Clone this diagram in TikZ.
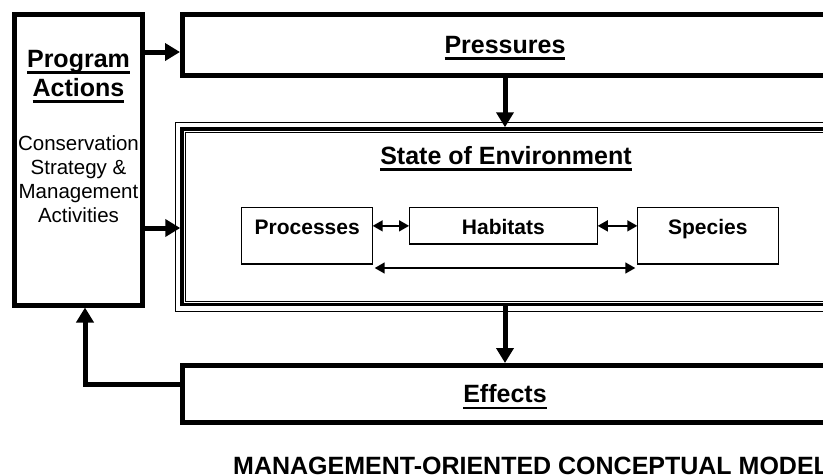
\documentclass[tikz,border=0pt]{standalone}
\usepackage{fontspec}
\setmainfont{Liberation Sans}
\usetikzlibrary{arrows.meta}
\usetikzlibrary{calc}

\newcommand{\ulined}[1]{\setbox0=\hbox{#1}\rlap{\smash{\rule[-6.5pt]{\wd0}{2.8pt}}}\box0}

\begin{document}
\begin{tikzpicture}[x=1pt,y=-1pt,
%    every node/.style={draw},
    heavy/.style={draw,line width=5pt,inner sep=0pt},
    inbox/.style={draw,line width=1.1pt,inner sep=0pt,outer sep=0pt,
      text height=26.3pt,font=\fontsize{21}{25}\selectfont\bfseries},
    heading/.style={font=\fontsize{25}{29}\selectfont\bfseries},
    mainflow/.style={-{Triangle[length=15pt,width=17pt]},line width=5pt},
    link/.style={{Triangle[length=10pt,width=11pt]}-{Triangle[length=10pt,width=11pt]},line width=1.5pt}]

    \useasboundingbox (0,0) rectangle (823,475);

    \begin{scope}[every node/.append style={heavy}]
      \node[minimum width=128pt,minimum height=290.5pt] (pa) at (78.5,159.75) {};
      \node[heading,minimum width=645pt,minimum height=61pt] (pres) at (505,45) {\ulined{Pressures}};
      \node[heading,minimum width=645pt,minimum height=57pt] (eff) at (505,394) {\ulined{Effects}};
    \end{scope}

    \node[draw,line width=3.5pt,inner sep=0pt,minimum width=645pt,minimum height=175.5pt] (state) at (504.5,216.75) {};
    \draw[line width=1.4pt] ([xshift=-5pt,yshift=5pt]state.north west) rectangle ([xshift=5pt,yshift=-5pt]state.south east);
    \draw[line width=1.4pt] ([xshift=5pt,yshift=-5pt]state.north west) rectangle ([xshift=-5pt,yshift=5pt]state.south east);
    \node[heading,anchor=base] (statetitle) at (506,164) {\ulined{State of Environment}};

    \begin{scope}[every node/.append style={inbox,anchor=base}]
      \node[text depth=30pt,minimum width=131pt] (proc) at (307.2,234) {Processes};
      \node[text depth=10pt,minimum width=188.7pt] (hab) at (503.4,234) {Habitats};
      \node[text depth=30pt,minimum width=141pt] (spec) at (707.8,234) {Species};
    \end{scope}

    \begin{scope}[every node/.append style={align=center,anchor=north,inner sep=0pt}]
      \node[heading] (patitle) at (78.5,50) {\ulined{Program}\\\ulined{Actions}};
      \node[font=\fontsize{20.5}{24}\selectfont] (padesc) at (78.5,135) {Conservation\\Strategy \&\\Management\\Activities};
    \end{scope}

    \draw[mainflow] (pa.east |- 0,52) -- (pres.west |- 0,52);
    \draw[mainflow] (pa.east |- 0,228) -- (state.west |- 0,228);
    \draw[mainflow] (pres.south) -- (pres.south |- state.north);
    \draw[mainflow] (state.south -| eff.north) -- (eff.north);
    \draw[mainflow] ([yshift=10pt]eff.west) -| ([xshift=6.5pt]pa.south);

    \draw[link] (hab.west) -- (proc.east |- hab.west);
    \draw[link] (hab.east) -- (spec.west |- hab.east);
    \draw[link] ([xshift=2pt,yshift=-4pt]proc.south east) -- ([xshift=-2pt,yshift=-4pt]spec.south west);

    \node[anchor=base west,inner sep=0pt,font=\fontsize{25}{30}\selectfont\bfseries] (caption) at (233,474) {MANAGEMENT-ORIENTED CONCEPTUAL MODEL};
  \end{tikzpicture}
\end{document}
